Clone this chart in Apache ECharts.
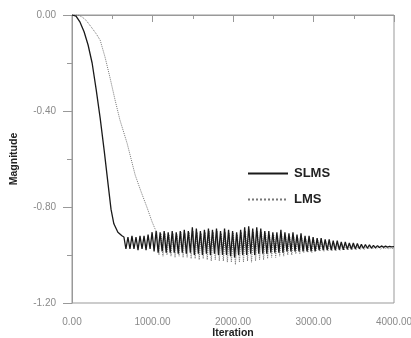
<!DOCTYPE html>
<html>
<head>
<meta charset="utf-8">
<script src="https://cdn.jsdelivr.net/npm/echarts@6/dist/echarts.min.js"></script>
<style>
html,body{margin:0;padding:0;background:#fff;}
#c{width:411px;height:338px;}
</style>
</head>
<body>
<div id="c"></div>
<script>
var seriesNames = ['SLMS', 'LMS'];
var xTicks = [0, 1000, 2000, 3000, 4000];
var yTicks = [0, -0.4, -0.8, -1.2];

var slms = [
[0,0],[50,-0.005],[100,-0.03],[150,-0.07],[200,-0.125],[250,-0.2],[300,-0.31],[350,-0.43],[400,-0.565],[450,-0.71],[485,-0.81],[520,-0.87],[570,-0.905],[620,-0.92],
[645,-0.925],[670,-0.975],[695,-0.925],[720,-0.975],[745,-0.92],[770,-0.975],[795,-0.925],[820,-0.98],[845,-0.92],[870,-0.975],
[895,-0.92],[920,-0.98],[945,-0.915],[970,-0.975],[995,-0.905],[1020,-0.985],[1045,-0.9],[1070,-0.99],[1095,-0.905],[1120,-0.985],
[1145,-0.9],[1170,-0.99],[1195,-0.905],[1220,-0.99],[1245,-0.9],[1270,-0.99],[1295,-0.905],[1320,-0.995],[1345,-0.9],[1370,-0.99],
[1395,-0.895],[1420,-0.995],[1445,-0.9],[1470,-0.99],[1495,-0.885],[1520,-1.0],[1545,-0.89],[1570,-0.995],[1595,-0.9],[1620,-1.0],
[1645,-0.895],[1670,-0.995],[1695,-0.89],[1720,-1.0],[1745,-0.895],[1770,-0.995],[1795,-0.89],[1820,-1.0],[1845,-0.9],[1870,-1.0],
[1895,-0.89],[1920,-1.0],[1945,-0.895],[1970,-1.005],[1995,-0.9],[2020,-1.01],[2045,-0.905],[2070,-1.0],[2095,-0.895],[2120,-1.0],
[2145,-0.885],[2170,-1.0],[2195,-0.88],[2220,-0.995],[2245,-0.89],[2270,-1.0],[2295,-0.885],[2320,-0.995],[2345,-0.89],[2370,-0.995],
[2395,-0.9],[2420,-0.995],[2445,-0.9],[2470,-0.99],[2495,-0.905],[2520,-0.99],[2545,-0.905],[2570,-0.99],[2595,-0.895],[2620,-0.99],
[2645,-0.905],[2670,-0.985],[2695,-0.91],[2720,-0.985],[2745,-0.905],[2770,-0.985],[2795,-0.915],[2820,-0.985],[2845,-0.91],[2870,-0.985],
[2895,-0.92],[2920,-0.985],[2945,-0.92],[2970,-0.985],[2995,-0.925],[3020,-0.985],[3045,-0.93],[3070,-0.98],[3095,-0.93],[3120,-0.98],
[3145,-0.935],[3170,-0.98],[3195,-0.935],[3220,-0.98],[3245,-0.94],[3270,-0.98],[3295,-0.94],[3320,-0.978],[3345,-0.945],[3370,-0.978],
[3395,-0.945],[3420,-0.976],[3445,-0.95],[3470,-0.976],[3495,-0.95],[3520,-0.975],[3545,-0.952],[3570,-0.974],[3595,-0.955],[3620,-0.973],
[3645,-0.956],[3670,-0.972],[3695,-0.958],[3720,-0.971],[3745,-0.96],[3770,-0.97],[3795,-0.961],[3820,-0.969],[3845,-0.962],[3870,-0.968],
[3895,-0.963],[3920,-0.967],[3945,-0.964],[3970,-0.966],[4000,-0.965]
];

var lms = [
[0,0],[75,0],[125,-0.008],[175,-0.022],[250,-0.055],[300,-0.078],[350,-0.105],[410,-0.175],[470,-0.258],[535,-0.354],[595,-0.437],
[685,-0.535],[785,-0.667],[860,-0.738],[930,-0.8],[995,-0.862],[1030,-0.89],[1055,-0.905],
[1080,-1.0],[1105,-0.91],[1130,-1.005],[1155,-0.91],[1180,-1.0],[1205,-0.915],[1230,-1.005],[1255,-0.91],[1280,-1.01],[1305,-0.915],
[1330,-1.005],[1355,-0.905],[1380,-1.01],[1405,-0.91],[1430,-1.01],[1455,-0.905],[1480,-1.015],[1505,-0.9],[1530,-1.015],[1555,-0.905],
[1580,-1.02],[1605,-0.91],[1630,-1.015],[1655,-0.905],[1680,-1.02],[1705,-0.9],[1730,-1.025],[1755,-0.905],[1780,-1.02],[1805,-0.9],
[1830,-1.025],[1855,-0.91],[1880,-1.025],[1905,-0.905],[1930,-1.03],[1955,-0.91],[1980,-1.03],[2005,-0.91],[2030,-1.04],[2055,-0.915],
[2080,-1.03],[2105,-0.905],[2130,-1.03],[2155,-0.9],[2180,-1.025],[2205,-0.895],[2230,-1.03],[2255,-0.905],[2280,-1.025],[2305,-0.9],
[2330,-1.02],[2355,-0.905],[2380,-1.02],[2405,-0.91],[2430,-1.015],[2455,-0.915],[2480,-1.01],[2505,-0.915],[2530,-1.01],[2555,-0.92],
[2580,-1.005],[2605,-0.915],[2630,-1.005],[2655,-0.92],[2680,-1.0],[2705,-0.925],[2730,-1.0],[2755,-0.925],[2780,-0.995],[2805,-0.93],
[2830,-0.995],[2855,-0.93],[2880,-0.99],[2905,-0.935],[2930,-0.99],[2955,-0.935],[2980,-0.99],[3005,-0.94],[3030,-0.985],[3055,-0.94],
[3080,-0.985],[3105,-0.945],[3130,-0.985],[3155,-0.945],[3180,-0.983],[3205,-0.95],[3230,-0.983],[3255,-0.95],[3280,-0.982],[3305,-0.953],
[3330,-0.981],[3355,-0.955],[3380,-0.98],[3405,-0.957],[3430,-0.98],[3455,-0.958],[3480,-0.979],[3505,-0.96],[3530,-0.978],[3555,-0.962],
[3580,-0.977],[3605,-0.963],[3630,-0.977],[3655,-0.965],[3680,-0.976],[3705,-0.966],[3730,-0.976],[3755,-0.967],[3780,-0.975],[3805,-0.968],
[3830,-0.975],[3855,-0.969],[3880,-0.974],[3905,-0.97],[3930,-0.974],[3955,-0.971],[3980,-0.973],[4000,-0.972]
];

var chart = echarts.init(document.getElementById('c'), null, {renderer: 'canvas'});
var axisGray = '#999';
var labelGray = '#8a8a8a';
var fontFam = '"Liberation Sans", Arial, sans-serif';
chart.setOption({
  animation: false,
  backgroundColor: '#fff',
  grid: {left: 72, right: 17, top: 15, bottom: 35, containLabel: false, outerBoundsMode: 'none',
         show: true, borderColor: axisGray, borderWidth: 1, backgroundColor: 'transparent'},
  legend: {
    orient: 'vertical', left: 247, top: 167, padding: 0,
    itemWidth: 40, itemHeight: 14, itemGap: 13,
    data: seriesNames,
    itemStyle: {opacity: 0},
    textStyle: {fontFamily: fontFam, fontWeight: 'bold', fontSize: 13, color: '#222', padding: [0, 0, 0, 1]}
  },
  xAxis: {
    type: 'value', min: xTicks[0], max: xTicks[xTicks.length - 1], interval: 1000,
    name: 'Iteration', nameLocation: 'middle', nameGap: 25, nameMoveOverlap: false,
    nameTextStyle: {fontFamily: fontFam, fontWeight: 'bold', fontSize: 10.5, color: '#222'},
    axisLine: {show: true, lineStyle: {color: axisGray, width: 1}},
    axisTick: {show: true, length: 7, lineStyle: {color: axisGray}},
    minorTick: {show: true, splitNumber: 2, length: 4, lineStyle: {color: axisGray}},
    splitLine: {show: false},
    axisLabel: {fontFamily: fontFam, fontSize: 10, color: labelGray, margin: 14, formatter: function (v) { return v.toFixed(2); }}
  },
  yAxis: {
    type: 'value', min: yTicks[yTicks.length - 1], max: yTicks[0], interval: 0.4,
    name: 'Magnitude', nameLocation: 'middle', nameGap: 52, nameRotate: 90, nameMoveOverlap: false,
    nameTextStyle: {fontFamily: fontFam, fontWeight: 'bold', fontSize: 10.5, color: '#222'},
    axisLine: {show: true, lineStyle: {color: axisGray, width: 1}},
    axisTick: {show: true, length: 9, lineStyle: {color: axisGray}},
    minorTick: {show: true, splitNumber: 2, length: 5, lineStyle: {color: axisGray}},
    splitLine: {show: false},
    axisLabel: {fontFamily: fontFam, fontSize: 10, color: labelGray, margin: 16, formatter: function (v) { return v.toFixed(2); }}
  },
  series: [
    {name: seriesNames[0], type: 'line', data: slms, showSymbol: false, symbol: 'none', z: 3,
     lineStyle: {color: '#1a1a1a', width: 1.3}, itemStyle: {color: '#1a1a1a'}},
    {name: seriesNames[1], type: 'line', data: lms, showSymbol: false, symbol: 'none', z: 2,
     lineStyle: {color: '#777', width: 1, type: 'dotted'}, itemStyle: {color: '#777'}}
  ]
});
</script>
</body>
</html>
